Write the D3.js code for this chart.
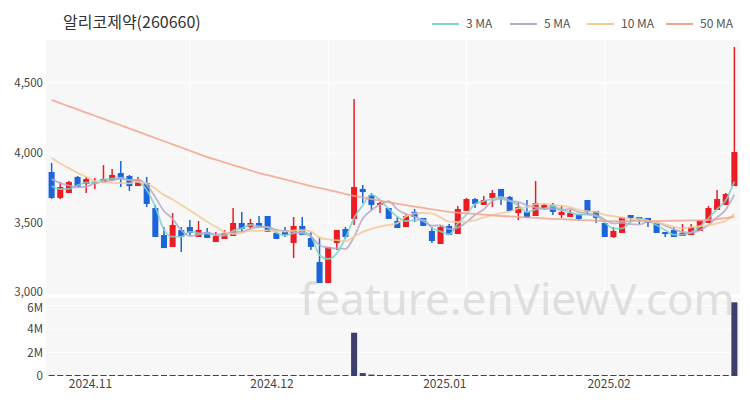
<!DOCTYPE html>
<html><head><meta charset="utf-8">
<script src="https://cdn.jsdelivr.net/npm/d3@7/dist/d3.min.js"></script>
<style>
body{margin:0;background:#fff;}
text{font-family:"Noto Sans CJK KR","Noto Sans",sans-serif;}
</style>
</head><body>
<svg id="chart" width="750" height="400"></svg>
<script>
const dates = [
"2024-10-25","2024-10-28","2024-10-29","2024-10-30","2024-10-31",
"2024-11-01","2024-11-04","2024-11-05","2024-11-06","2024-11-07","2024-11-08","2024-11-11","2024-11-12","2024-11-13","2024-11-14","2024-11-15","2024-11-18","2024-11-19","2024-11-20","2024-11-21","2024-11-22","2024-11-25","2024-11-26","2024-11-27","2024-11-28","2024-11-29",
"2024-12-02","2024-12-03","2024-12-04","2024-12-05","2024-12-06","2024-12-09","2024-12-10","2024-12-11","2024-12-12","2024-12-13","2024-12-16","2024-12-17","2024-12-18","2024-12-19","2024-12-20","2024-12-23","2024-12-24","2024-12-26","2024-12-27","2024-12-30",
"2025-01-02","2025-01-03","2025-01-06","2025-01-07","2025-01-08","2025-01-09","2025-01-10","2025-01-13","2025-01-14","2025-01-15","2025-01-16","2025-01-17","2025-01-20","2025-01-21","2025-01-22","2025-01-23","2025-01-24","2025-01-27","2025-01-31",
"2025-02-03","2025-02-04","2025-02-05","2025-02-06","2025-02-07","2025-02-10","2025-02-11","2025-02-12","2025-02-13","2025-02-14","2025-02-17","2025-02-18","2025-02-19","2025-02-20","2025-02-21"];

const opens  = [3864,3679,3714,3829,3779,3782,3786,3807,3857,3836,3764,3786,3607,3414,3329,3450,3471,3400,3436,3364,3386,3407,3500,3471,3500,3550,3429,3450,3357,3479,3393,3221,3071,3357,3457,3529,3743,3700,3629,3607,3514,3471,3579,3536,3443,3350,3479,3421,3586,3671,3629,3679,3743,3686,3571,3579,3550,3607,3629,3557,3543,3564,3664,3586,3500,3400,3429,3557,3543,3536,3500,3436,3450,3407,3414,3443,3500,3593,3629,3764];
const highs  = [3929,3793,3800,3835,3829,3821,3914,3886,3943,3843,3829,3829,3629,3471,3571,3471,3521,3514,3464,3436,3450,3607,3579,3529,3550,3550,3457,3471,3543,3543,3436,3400,3329,3450,3471,4386,3771,3714,3650,3607,3543,3564,3600,3536,3471,3486,3493,3621,3679,3679,3693,3736,3743,3693,3643,3664,3800,3643,3643,3629,3593,3564,3664,3586,3500,3471,3543,3557,3543,3536,3500,3436,3471,3493,3493,3521,3621,3736,3714,4757];
const lows   = [3672,3671,3714,3757,3714,3743,3786,3800,3757,3729,3764,3614,3400,3321,3329,3293,3414,3400,3393,3364,3386,3407,3436,3457,3471,3436,3386,3400,3250,3414,3307,3071,3071,3307,3386,3486,3643,3593,3571,3529,3464,3471,3507,3479,3357,3350,3414,3421,3586,3607,3629,3614,3629,3586,3521,3536,3550,3593,3557,3536,3543,3514,3557,3500,3400,3393,3429,3514,3493,3471,3429,3400,3400,3407,3414,3443,3500,3593,3629,3764];
const closes = [3679,3757,3793,3757,3814,3795,3814,3843,3814,3764,3807,3636,3400,3321,3486,3400,3429,3450,3393,3407,3429,3500,3457,3500,3471,3436,3386,3414,3479,3414,3329,3071,3329,3450,3400,3757,3721,3629,3643,3529,3464,3550,3543,3479,3371,3471,3414,3600,3671,3636,3664,3714,3679,3586,3614,3536,3643,3629,3579,3579,3571,3529,3579,3536,3400,3443,3543,3536,3521,3500,3429,3421,3400,3429,3471,3521,3607,3671,3707,4007];
const volumes = [90000,30000,25000,20000,22000,18000,25000,30000,40000,30000,20000,45000,60000,40000,50000,30000,25000,20000,18000,15000,15000,30000,20000,15000,15000,20000,15000,15000,60000,40000,30000,70000,50000,40000,30000,3700000,250000,120000,80000,60000,40000,30000,30000,25000,40000,30000,25000,50000,40000,30000,25000,30000,30000,25000,20000,30000,60000,25000,20000,20000,15000,15000,25000,20000,25000,20000,30000,20000,15000,15000,20000,15000,15000,20000,20000,25000,40000,45000,40000,6300000];
const priorCloses = [4150,4120,4100,4090,4110,3900,3880,3820,3790];
const ma50 = [4379,4356,4333,4311,4288,4266,4243,4220,4198,4175,4152,4130,4107,4084,4062,4039,4016,3994,3971,3952,3933,3914,3895,3876,3857,3842,3826,3811,3795,3780,3764,3750,3736,3722,3707,3693,3682,3670,3659,3648,3636,3627,3617,3608,3598,3589,3579,3574,3569,3565,3560,3555,3550,3547,3543,3540,3536,3533,3529,3527,3524,3522,3519,3517,3514,3514,3514,3514,3514,3514,3514,3515,3516,3517,3518,3519,3521,3528,3535,3543];
const priceTicks = [3000,3500,4000,4500];
const volumeTicks = [0,2000000,4000000,6000000];
const monthTicks = ["2024-11-01","2024-12-02","2025-01-02","2025-02-03"];
const monthLabels = ["2024.11","2024.12","2025.01","2025.02"];
const gridDates = ["2024-11-18","2024-12-10","2025-01-06","2025-01-31"];
const maNames = ["3 MA","5 MA","10 MA","50 MA"];
const maPeriods = [3,5,10,50];
const maColors = ["#7fd4c9","#b4a8cb","#f3c996","#f5a28f"];
const title = "알리코제약(260660)";

const svg = d3.select("#chart");
const L = 46, R = 740;
const pTop = 40, pBot = 294, vTop = 298, vBot = 376;

const x = d3.scaleBand().domain(dates).range([L, R]).padding(0.3);
const cx = d => x(d) + x.bandwidth()/2;
const y = d3.scaleLinear().domain([3000, 4807]).range([293, 40]);
const yv = d3.scaleLinear().domain([0, 6670000]).range([vBot, vTop]);

// backgrounds
svg.append("rect").attr("x",L).attr("y",pTop).attr("width",R-L).attr("height",pBot-pTop).attr("fill","#f7f7f7");
svg.append("rect").attr("x",L).attr("y",vTop).attr("width",R-L).attr("height",vBot-vTop).attr("fill","#f7f7f7");

// grids
svg.append("g").selectAll("line").data(priceTicks.slice(1)).join("line")
  .attr("x1",L).attr("x2",R).attr("y1",d=>y(d)).attr("y2",d=>y(d))
  .attr("stroke","#ffffff").attr("stroke-width",1);
svg.append("g").selectAll("line").data(volumeTicks.slice(1)).join("line")
  .attr("x1",L).attr("x2",R).attr("y1",d=>yv(d)).attr("y2",d=>yv(d))
  .attr("stroke","#ffffff").attr("stroke-width",1);
svg.append("g").selectAll("line").data(gridDates).join("line")
  .attr("x1",d=>cx(d)).attr("x2",d=>cx(d)).attr("y1",pTop).attr("y2",pBot)
  .attr("stroke","#ffffff").attr("stroke-width",1);

// watermark
svg.append("text").attr("x",300).attr("y",315).attr("font-size",44)
  .attr("fill","#d4d4d4").attr("opacity",0.7)
  .style("font-family","'Noto Sans',sans-serif")
  .text("feature.enViewV.com");

// y axes labels
const axP = d3.axisLeft(y).tickValues(priceTicks).tickFormat(d3.format(",")).tickSize(0).tickPadding(3);
const gP = svg.append("g").attr("transform",`translate(${L},0)`).call(axP);
const axV = d3.axisLeft(yv).tickValues(volumeTicks).tickFormat(d=> d===0?"0":(d/1e6)+"M").tickSize(0).tickPadding(3);
const gV = svg.append("g").attr("transform",`translate(${L},0)`).call(axV);
[gP,gV].forEach(g=>{ g.select(".domain").remove(); g.selectAll("text").attr("fill","#444").attr("font-size",11.5).style("font-family","'Noto Sans CJK KR',sans-serif"); });
gP.selectAll(".tick").filter(d=>d===3000).select("text").attr("dy","0.2em");
gV.selectAll(".tick").filter(d=>d===6000000).select("text").attr("dy","0.45em");

// x axis
const axX = d3.axisBottom(x).tickValues(monthTicks).tickFormat(d=>monthLabels[monthTicks.indexOf(d)]).tickSize(0).tickPadding(3);
const gX = svg.append("g").attr("transform",`translate(${-x.step()/2},${vBot})`).call(axX);
gX.select(".domain").remove();
gX.selectAll("text").attr("fill","#444").attr("font-size",12).style("font-family","'Noto Sans CJK KR',sans-serif");

const idx = d3.range(dates.length);
const upC = "#ec1c24", dnC = "#1b64da";
const col = i => closes[i] >= opens[i] ? upC : dnC;

// volume bars
svg.append("g").selectAll("rect").data(idx).join("rect")
  .attr("x",i=>x(dates[i])).attr("width",x.bandwidth())
  .attr("y",i=>Math.min(yv(volumes[i]), vBot-1)).attr("height",i=>Math.max(1, vBot - yv(volumes[i])))
  .attr("fill","#3c3f6c");

// candles
const cg = svg.append("g");
cg.selectAll("line").data(idx).join("line")
  .attr("x1",i=>cx(dates[i])).attr("x2",i=>cx(dates[i]))
  .attr("y1",i=>y(highs[i])).attr("y2",i=>y(lows[i]))
  .attr("stroke",col).attr("stroke-width",1.5);
cg.selectAll("rect").data(idx).join("rect")
  .attr("x",i=>x(dates[i])).attr("width",x.bandwidth())
  .attr("y",i=>y(Math.max(opens[i],closes[i])))
  .attr("height",i=>Math.max(1.5, Math.abs(y(opens[i])-y(closes[i]))))
  .attr("fill",col);

// moving averages
const all = priorCloses.concat(closes);
function ma(n){
  return idx.map(i=>{ const e = i + priorCloses.length; return d3.mean(all.slice(e-n+1, e+1)); });
}
const maData = [ma(3), ma(5), ma(10), ma50];
const line = d3.line().x((d,i)=>cx(dates[i])).y(d=>y(d)).curve(d3.curveMonotoneX);
maData.forEach((arr,k)=>{
  svg.append("path").datum(arr).attr("d",line).attr("fill","none")
    .attr("stroke",maColors[k]).attr("stroke-width",1.8).attr("opacity",0.85);
});

// title
svg.append("text").attr("x",63).attr("y",28).attr("font-size",16).attr("fill","#333").text(title);

// legend
const legX = [432,510,587,666];
maNames.forEach((n,k)=>{
  svg.append("line").attr("x1",legX[k]).attr("x2",legX[k]+27).attr("y1",24).attr("y2",24)
    .attr("stroke",maColors[k]).attr("stroke-width",2);
  svg.append("text").attr("x",legX[k]+34).attr("y",28).attr("font-size",12).attr("fill","#555").text(n);
});
</script>
</body></html>
